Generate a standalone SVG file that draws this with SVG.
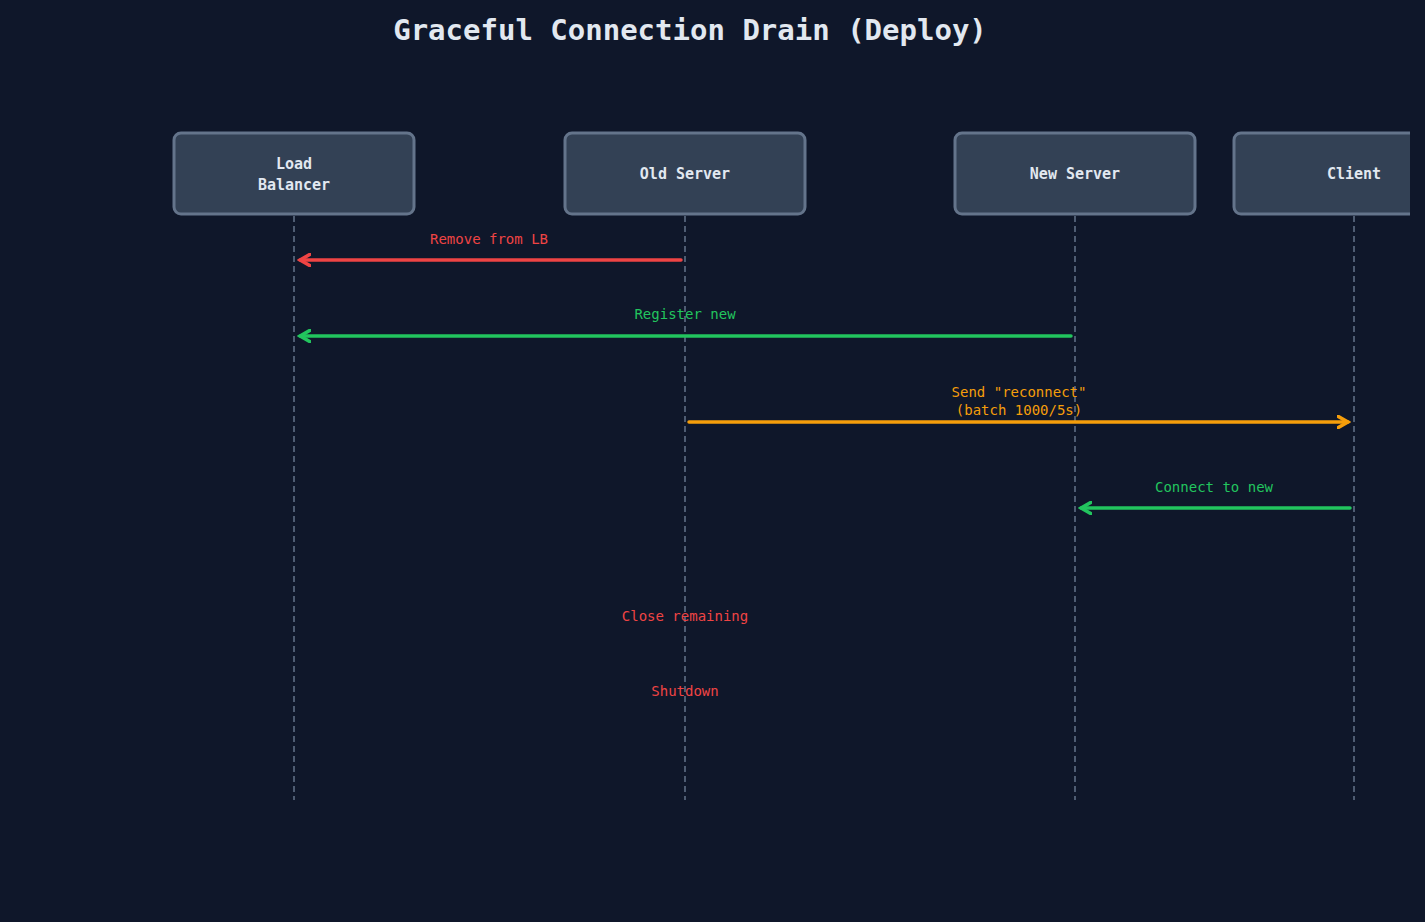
<svg xmlns="http://www.w3.org/2000/svg" width="1425" height="922" viewBox="0 0 1425 922">
<style>
.box{fill:#334155;stroke:#64748b;stroke-width:3}
.nt{font-family:"DejaVu Sans Mono",monospace;font-size:15px;font-weight:bold;fill:#e2e8f0;text-anchor:middle}
.life{stroke:#64748b;stroke-width:1.5;stroke-dasharray:6,4}
.lbl{font-family:"DejaVu Sans Mono",monospace;font-size:14px;text-anchor:middle}
</style>
<defs>
<marker id="ar" viewBox="0 0 10 10" refX="8" refY="5" markerWidth="4" markerHeight="4" orient="auto-start-reverse"><path d="M1,1 L8,5 L1,9" fill="none" stroke="context-stroke" stroke-width="2.5" stroke-linecap="round"/></marker>
<marker id="red" viewBox="0 0 10 10" refX="8" refY="5" markerWidth="4" markerHeight="4" orient="auto"><path d="M1,1 L8,5 L1,9" fill="none" stroke="#ef4444" stroke-width="2.5" stroke-linecap="round"/></marker>
<marker id="grn" viewBox="0 0 10 10" refX="8" refY="5" markerWidth="4" markerHeight="4" orient="auto"><path d="M1,1 L8,5 L1,9" fill="none" stroke="#22c55e" stroke-width="2.5" stroke-linecap="round"/></marker>
<marker id="org" viewBox="0 0 10 10" refX="8" refY="5" markerWidth="4" markerHeight="4" orient="auto"><path d="M1,1 L8,5 L1,9" fill="none" stroke="#f59e0b" stroke-width="2.5" stroke-linecap="round"/></marker>
<clipPath id="cl"><rect x="0" y="0" width="1410" height="922"/></clipPath>
</defs>
<rect width="1425" height="922" fill="#0f172a"/>
<text x="690" y="40" font-family="'DejaVu Sans Mono',monospace" font-size="29" font-weight="bold" fill="#e2e8f0" text-anchor="middle">Graceful Connection Drain (Deploy)</text>
<g id="lifelines">
<line class="life" x1="294" y1="216" x2="294" y2="800"/>
<line class="life" x1="685" y1="216" x2="685" y2="800"/>
<line class="life" x1="1075" y1="216" x2="1075" y2="800"/>
<line class="life" x1="1354" y1="216" x2="1354" y2="800"/>
</g>
<g id="lb"><rect class="box" x="174" y="133" width="240" height="81" rx="7"/><text class="nt" x="294" y="169">Load</text><text class="nt" x="294" y="190">Balancer</text></g>
<g id="old"><rect class="box" x="565" y="133" width="240" height="81" rx="7"/><text class="nt" x="685" y="179">Old Server</text></g>
<g id="new"><rect class="box" x="955" y="133" width="240" height="81" rx="7"/><text class="nt" x="1075" y="179">New Server</text></g>
<g id="client" clip-path="url(#cl)"><rect class="box" x="1234" y="133" width="240" height="81" rx="7"/><text class="nt" x="1354" y="179">Client</text></g>
<g id="connectors" stroke-width="3.5" fill="none" stroke-linecap="round">
<line x1="681" y1="260" x2="300" y2="260" stroke="#ef4444" marker-end="url(#red)"/>
<line x1="1071" y1="336" x2="300" y2="336" stroke="#22c55e" marker-end="url(#grn)"/>
<line x1="689" y1="422" x2="1348" y2="422" stroke="#f59e0b" marker-end="url(#org)"/>
<line x1="1350" y1="508" x2="1081" y2="508" stroke="#22c55e" marker-end="url(#grn)"/>
</g>
<g id="labels">
<text class="lbl" x="489" y="244" fill="#ef4444">Remove from LB</text>
<text class="lbl" x="685" y="319" fill="#22c55e">Register new</text>
<text class="lbl" x="1019" y="397" fill="#f59e0b">Send "reconnect"</text>
<text class="lbl" x="1019" y="415" fill="#f59e0b">(batch 1000/5s)</text>
<text class="lbl" x="1214" y="492" fill="#22c55e">Connect to new</text>
<text class="lbl" x="685" y="621" fill="#ef4444">Close remaining</text>
<text class="lbl" x="685" y="696" fill="#ef4444">Shutdown</text>
</g>
</svg>
